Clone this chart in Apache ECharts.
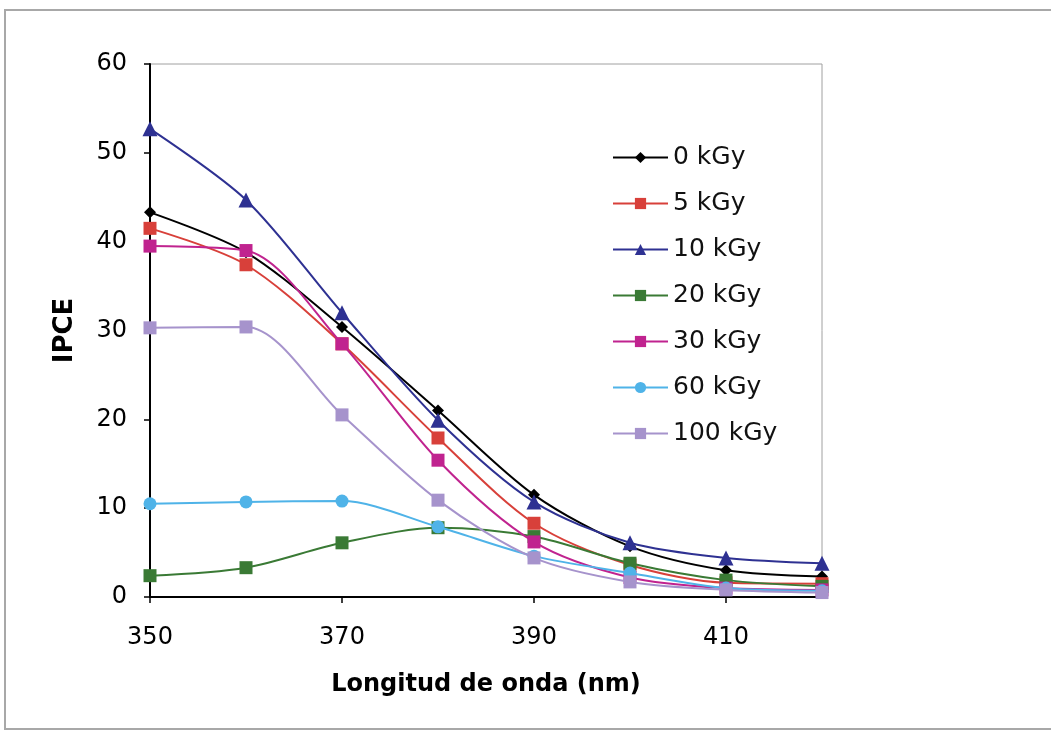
<!DOCTYPE html>
<html>
<head>
<meta charset="utf-8">
<script src="https://cdn.jsdelivr.net/npm/echarts@6/dist/echarts.min.js"></script>
<style>
  html, body { margin: 0; padding: 0; background: #fff; }
  #chart { width: 1051px; height: 733px; }
</style>
</head>
<body>
<div id="chart"></div>
<script>
// Wavelength (nm)
const wavelengths = [350, 360, 370, 380, 390, 400, 410, 420];

// IPCE (%) per irradiation dose
const ipce0   = [43.3, 38.8, 30.4, 21.0, 11.5, 5.7, 3.0, 2.3];
const ipce5   = [41.5, 37.4, 28.5, 17.9, 8.3, 3.6, 1.6, 1.5];
const ipce10  = [52.7, 44.7, 32.0, 19.9, 10.7, 6.1, 4.4, 3.8];
const ipce20  = [2.4, 3.3, 6.1, 7.8, 6.8, 3.8, 1.9, 1.2];
const ipce30  = [39.5, 39.0, 28.5, 15.4, 6.2, 2.2, 1.0, 0.8];
const ipce60  = [10.5, 10.7, 10.8, 7.9, 4.6, 2.7, 1.0, 0.7];
const ipce100 = [30.3, 30.4, 20.5, 10.9, 4.4, 1.7, 0.8, 0.5];

const seriesNames = ['0 kGy', '5 kGy', '10 kGy', '20 kGy', '30 kGy', '60 kGy', '100 kGy'];
const seriesData = [ipce0, ipce5, ipce10, ipce20, ipce30, ipce60, ipce100];
const colors = ['#000000', '#d8403a', '#2e3192', '#3a7a35', '#c0238f', '#4fb3e8', '#a693cc'];
const symbols = ['diamond', 'rect', 'triangle', 'rect', 'rect', 'circle', 'rect'];
const symbolSizes = [12, 13, 15, 13, 13, 13, 13];

const FONT = '"DejaVu Sans", Verdana, sans-serif';

const series = seriesNames.map((name, i) => ({
  name: name,
  type: 'line',
  smooth: 0.3,
  data: wavelengths.map((w, j) => [w, seriesData[i][j]]),
  symbol: symbols[i],
  symbolSize: symbolSizes[i],
  showAllSymbol: true,
  lineStyle: { color: colors[i], width: 2 },
  itemStyle: { color: colors[i] },
  z: 3 + i
}));

const chart = echarts.init(document.getElementById('chart'), null, { renderer: 'canvas' });
chart.setOption({
  backgroundColor: '#ffffff',
  animation: false,
  color: colors,
  graphic: [{
    type: 'rect',
    shape: { x: 5, y: 10, width: 1060, height: 719 },
    style: { fill: 'none', stroke: '#a8a8a8', lineWidth: 2 },
    z: -1
  }],
  grid: {
    left: 150, right: 229, top: 64, bottom: 136,
    show: true, borderColor: '#a0a0a0', borderWidth: 1, backgroundColor: 'transparent'
  },
  legend: {
    orient: 'vertical',
    left: 607, top: 140,
    itemWidth: 55, itemHeight: 14, itemGap: 21,
    textStyle: { fontFamily: FONT, fontSize: 25, color: '#111' },
    data: seriesNames
  },
  xAxis: {
    type: 'value',
    min: 350, max: 420, interval: 20,
    name: 'Longitud de onda (nm)',
    nameLocation: 'middle', nameGap: 76,
    nameTextStyle: { fontFamily: FONT, fontSize: 24, fontWeight: 'bold', color: '#000' },
    axisLine: { show: true, lineStyle: { color: '#000', width: 2 } },
    axisTick: { show: true, length: 6, lineStyle: { color: '#000', width: 1.5 } },
    axisLabel: { fontFamily: FONT, fontSize: 24, color: '#000', margin: 29, showMaxLabel: false },
    splitLine: { show: false }
  },
  yAxis: {
    type: 'value',
    min: 0, max: 60, interval: 10,
    name: 'IPCE',
    nameLocation: 'middle', nameGap: 72, nameRotate: 90,
    nameTextStyle: { fontFamily: FONT, fontSize: 26, fontWeight: 'bold', color: '#000' },
    axisLine: { show: true, lineStyle: { color: '#000', width: 2 } },
    axisTick: { show: true, length: 6, lineStyle: { color: '#000', width: 1.5 } },
    axisLabel: { fontFamily: FONT, fontSize: 24, color: '#000', margin: 23 },
    splitLine: { show: false }
  },
  series: series
});
</script>
</body>
</html>
